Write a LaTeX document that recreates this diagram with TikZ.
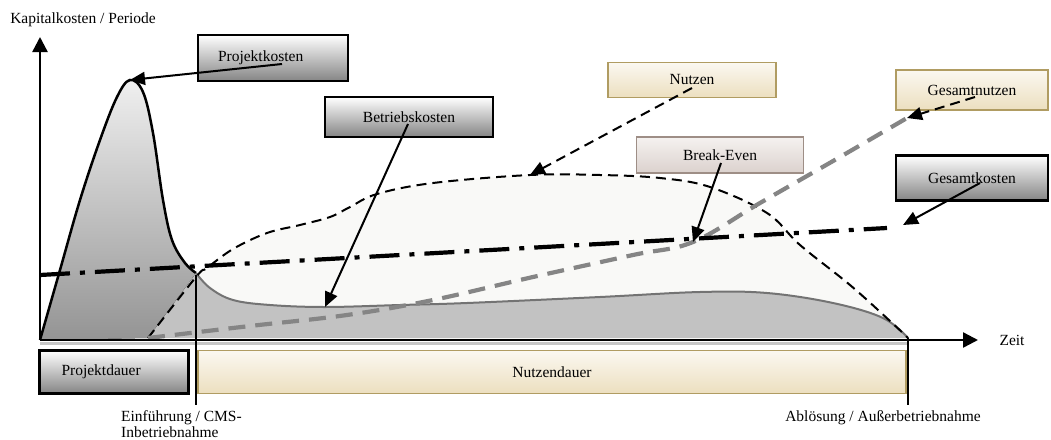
\documentclass[tikz,border=0pt]{standalone}
\usepackage{fontspec}
\setmainfont{Liberation Serif}
\usetikzlibrary{arrows.meta,shadings}

\definecolor{beigetop}{HTML}{FBF8F1}
\definecolor{beigebot}{HTML}{ECDFBF}
\definecolor{tanline}{HTML}{B09C62}
\definecolor{rosetop}{HTML}{F5F2F0}
\definecolor{rosebot}{HTML}{DBD1CD}
\definecolor{roseline}{HTML}{9E8E86}
\definecolor{nutzfill}{HTML}{F9F9F7}
\definecolor{betrfill}{HTML}{C2C2C2}

\tikzset{
  kostbox/.style={draw=black, line width=2.2pt, top color=white, bottom color=black!48, inner sep=0pt},
  nutzbox/.style={draw=tanline, line width=1.6pt, top color=beigetop, bottom color=beigebot, inner sep=0pt},
  evenbox/.style={draw=roseline, line width=1.6pt, top color=rosetop, bottom color=rosebot, inner sep=0pt},
  pfeil/.style={line width=2pt, -{Triangle[length=15pt,width=13pt]}},
}

\begin{document}
\begin{tikzpicture}[x=1pt, y=-1pt, every node/.style={font=\fontsize{15.5}{17}\selectfont}]
\useasboundingbox (0,0) rectangle (1051,439);

% Flaechen
\fill[nutzfill] plot[smooth, tension=0.6] coordinates {(148,338) (196,277) (207,268) (233,249) (267,233) (300,225) (330,217) (350,207) (377,194) (433,183) (530,175) (600,175) (660,178) (710,187) (767,213) (800,245) (850,285) (890,321) (908,338)} -- cycle;
\fill[betrfill] (148,338) -- plot[smooth, tension=0.6] coordinates {(196,273) (210,288) (233,300) (270,305) (325,307) (400,305) (467,303) (600,297) (700,292) (767,293) (833,303) (883,318) (908,338)} -- cycle;
\fill[top color=black!6, bottom color=black!42] plot[smooth, tension=0.6] coordinates {(40,340) (60,270) (80,200) (100,140) (117,97) (130,80) (143,92) (153,133) (163,200) (172,240) (185,263) (196,273)} -- (148,338) -- cycle;
\draw[black!22, line width=3pt] (40,343) -- (908,343);

% Kurven
\draw[line width=2.5pt] plot[smooth, tension=0.6] coordinates {(40,340) (60,270) (80,200) (100,140) (117,97) (130,80) (143,92) (153,133) (163,200) (172,240) (185,263) (196,273)};
\draw[black!55, line width=2pt] plot[smooth, tension=0.6] coordinates {(196,273) (210,288) (233,300) (270,305) (325,307) (400,305) (467,303) (600,297) (700,292) (767,293) (833,303) (883,318) (908,338)};
\draw[line width=2pt, dash pattern=on 10pt off 6pt] plot[smooth, tension=0.6] coordinates {(148,338) (196,277) (207,268) (233,249) (267,233) (300,225) (330,217) (350,207) (377,194) (433,183) (530,175) (600,175) (660,178) (710,187) (767,213) (800,245) (850,285) (890,321) (908,338)};
\draw[black!48, line width=4.2pt, dash pattern=on 17pt off 10pt] plot[smooth, tension=0.6] coordinates {(148,338) (250,326) (347,315) (433,300) (533,277) (633,255) (693,242) (760,203) (840,157) (907,118)};
\draw[line width=4.2pt, dash pattern=on 30pt off 10pt on 5pt off 10pt] (40,275) -- (887,228);

% Punkte auf den Kurven
\coordinate (peak) at (130,80);
\coordinate (betrmin) at (325,307);
\coordinate (nutzmax) at (530,175);
\coordinate (even) at (693,242);
\coordinate (gesnutz) at (907,118);
\coordinate (geskost) at (903,225);
\coordinate (start) at (40,340);
\coordinate (ytop) at (40,37);
\coordinate (xend) at (978,340);
\coordinate (einf) at (196,275);
\coordinate (einfu) at (196,405);
\coordinate (abl) at (908,338);
\coordinate (ablu) at (908,405);

% Achsen
\draw[line width=2.4pt, -{Triangle[length=15pt,width=15pt]}] (start) -- (ytop);
\draw[line width=2.4pt, -{Triangle[length=15pt,width=15pt]}] (start) -- (xend);
\node (ylabel) at (83,20) {Kapitalkosten / Periode};
\node (zeit) at (1012,340) {Zeit};

\draw[line width=1.8pt] (einf) -- (einfu);
\draw[line width=1.8pt] (abl) -- (ablu);
\node[anchor=north west, align=left, inner sep=0pt, font=\fontsize{15.5}{16}\selectfont] (einftext) at (121,410) {Einführung / CMS-\\Inbetriebnahme};
\node (abltext) at (883,418) {Ablösung / Außerbetriebnahme};

% Kaesten
\node[kostbox, minimum width=150pt, minimum height=46pt, text width=110pt, align=left] (projekt) at (273,58) {Projektkosten};
\node[kostbox, minimum width=168pt, minimum height=40pt] (betrieb) at (409,117) {Betriebskosten};
\node[nutzbox, minimum width=168pt, minimum height=35pt] (nutzen) at (692,80) {Nutzen};
\node[evenbox, minimum width=167pt, minimum height=36pt] (breakeven) at (720,155) {Break-Even};
\node[nutzbox, minimum width=152pt, minimum height=40pt] (gesamtnutzen) at (972,90) {Gesamtnutzen};
\node[kostbox, minimum width=152pt, minimum height=45pt] (gesamtkosten) at (972,178) {Gesamtkosten};
\node[kostbox, minimum width=149pt, minimum height=43pt, text width=105pt, align=left] (projektdauer) at (114,372) {Projektdauer};
\node[nutzbox, minimum width=708pt, minimum height=43pt] (nutzendauer) at (552,372) {Nutzendauer};

% Pfeile
\draw[pfeil] ([shift={(9,6)}]projekt.center) -- (peak);
\draw[pfeil] ([shift={(-1,7)}]betrieb.center) -- (betrmin);
\draw[pfeil, dash pattern=on 10pt off 6pt] ([shift={(0,8)}]nutzen.center) -- (nutzmax);
\draw[pfeil] ([shift={(1,8)}]breakeven.center) -- (even);
\draw[pfeil, dash pattern=on 10pt off 6pt] ([shift={(3,7)}]gesamtnutzen.center) -- (gesnutz);
\draw[pfeil] ([shift={(8,5)}]gesamtkosten.center) -- (geskost);

\end{tikzpicture}
\end{document}
